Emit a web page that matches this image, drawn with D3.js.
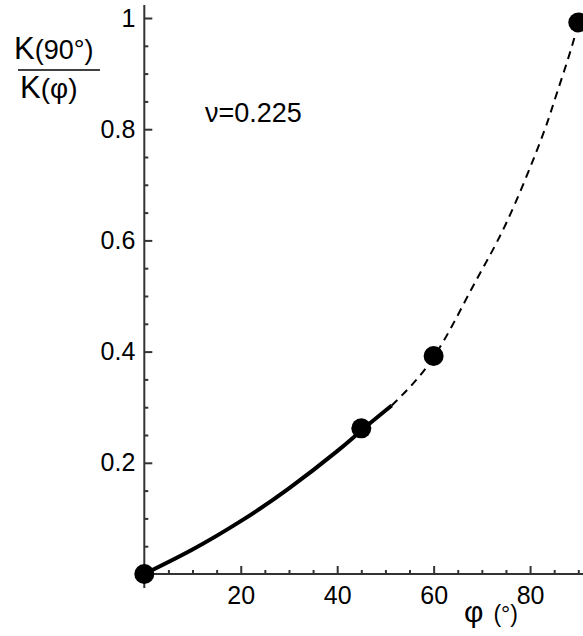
<!DOCTYPE html>
<html>
<head>
<meta charset="utf-8">
<script src="https://cdn.jsdelivr.net/npm/d3@7"></script>
<style>
  body { margin: 0; background: #fff; }
  svg { display: block; font-family: "Liberation Sans", Arial, sans-serif; }
</style>
</head>
<body>
<div class="chart_area"></div>
<script>
// data
var xMajor = [20, 40, 60, 80];
var yMajor = [0.2, 0.4, 0.6, 0.8, 1];
var yLabels = ["0.2", "0.4", "0.6", "0.8", "1"];

var solidPhi = [0, 10, 20, 30, 40, 45, 51.3];
var solidK = [0, 0.044, 0.095, 0.154, 0.221, 0.258, 0.303];

var dashPhi = [51.3, 60, 68, 75, 82, 85, 88, 90];
var dashK = [0.303, 0.39, 0.515, 0.63, 0.775, 0.85, 0.93, 0.99];

var pointPhi = [0, 45, 60, 90];
var pointK = [0, 0.262, 0.392, 0.992];

var width = 583, height = 636;

var svg = d3.select(".chart_area")
    .append("svg")
    .attr("width", width)
    .attr("height", height);

var x = d3.scaleLinear().domain([0, 90]).range([144.3, 578.3]);
var y = d3.scaleLinear().domain([0, 1]).range([574, 18]);

// axis lines
svg.append("line")
    .attr("x1", x(0)).attr("x2", 583)
    .attr("y1", y(0)).attr("y2", y(0))
    .style("stroke", "#333").style("stroke-width", 2);
svg.append("line")
    .attr("x1", x(0)).attr("x2", x(0))
    .attr("y1", 5).attr("y2", 588)
    .style("stroke", "#333").style("stroke-width", 2);

// x axis ticks
svg.append("g")
    .attr("transform", "translate(0," + y(0) + ")")
    .call(d3.axisBottom(x).tickValues(xMajor).tickSize(-8).tickPadding(12).tickFormat(d3.format("d")));
svg.append("g")
    .attr("transform", "translate(0," + y(0) + ")")
    .call(d3.axisBottom(x).tickValues(d3.range(5, 95, 5).filter(function(d){ return d % 20 != 0; })).tickSize(-4).tickFormat(""));

// y axis ticks
svg.append("g")
    .attr("transform", "translate(" + x(0) + ",0)")
    .call(d3.axisLeft(y).tickValues(yMajor).tickSize(-8).tickPadding(9)
        .tickFormat(function(d, i){ return yLabels[i]; }));
svg.append("g")
    .attr("transform", "translate(" + x(0) + ",0)")
    .call(d3.axisLeft(y).tickValues(d3.range(0.05, 1.0, 0.05).filter(function(d){ return Math.abs(d * 5 - Math.round(d * 5)) > 1e-6; })).tickSize(-4).tickFormat(""));

svg.selectAll(".domain").remove();
svg.selectAll(".tick line").style("stroke", "#333").style("stroke-width", 2);
svg.selectAll(".tick text")
    .style("font-family", "Liberation Sans, Arial, sans-serif")
    .style("font-size", "25px")
    .style("fill", "#000");

// curves
var solid = solidPhi.map(function(d, i){ return [d, solidK[i]]; });
var dashed = dashPhi.map(function(d, i){ return [d, dashK[i]]; });

var line = d3.line()
    .x(function(d){ return x(d[0]); })
    .y(function(d){ return y(d[1]); })
    .curve(d3.curveNatural);

svg.append("path")
    .attr("d", line(solid))
    .attr("fill", "none")
    .style("stroke", "#000")
    .style("stroke-width", 4);

svg.append("path")
    .attr("d", line(dashed))
    .attr("fill", "none")
    .style("stroke", "#000")
    .style("stroke-width", 2)
    .style("stroke-dasharray", "8,6");

// markers
svg.append("g")
    .selectAll("circle")
    .data(pointPhi)
    .enter()
    .append("circle")
    .attr("cx", function(d){ return x(d); })
    .attr("cy", function(d, i){ return y(pointK[i]); })
    .attr("r", 10)
    .attr("fill", "#000");

// labels
svg.append("text")
    .attr("x", 205).attr("y", 122)
    .style("font-size", "27px")
    .text("ν=0.225");

var num = svg.append("text").attr("x", 14).attr("y", 59);
num.append("tspan").style("font-size", "31px").text("K");
num.append("tspan").style("font-size", "27px").text("(90°)");
svg.append("line")
    .attr("x1", 18).attr("x2", 100)
    .attr("y1", 70).attr("y2", 70)
    .style("stroke", "#000").style("stroke-width", 1.5);
var den = svg.append("text").attr("x", 20).attr("y", 98);
den.append("tspan").style("font-size", "31px").text("K");
den.append("tspan").style("font-size", "28px").text("(φ)");

var xt = svg.append("text").attr("x", 464).attr("y", 622);
xt.append("tspan").style("font-size", "30px").text("φ");
xt.append("tspan").style("font-size", "23px").attr("dx", 10).text("(°)");
</script>
</body>
</html>
